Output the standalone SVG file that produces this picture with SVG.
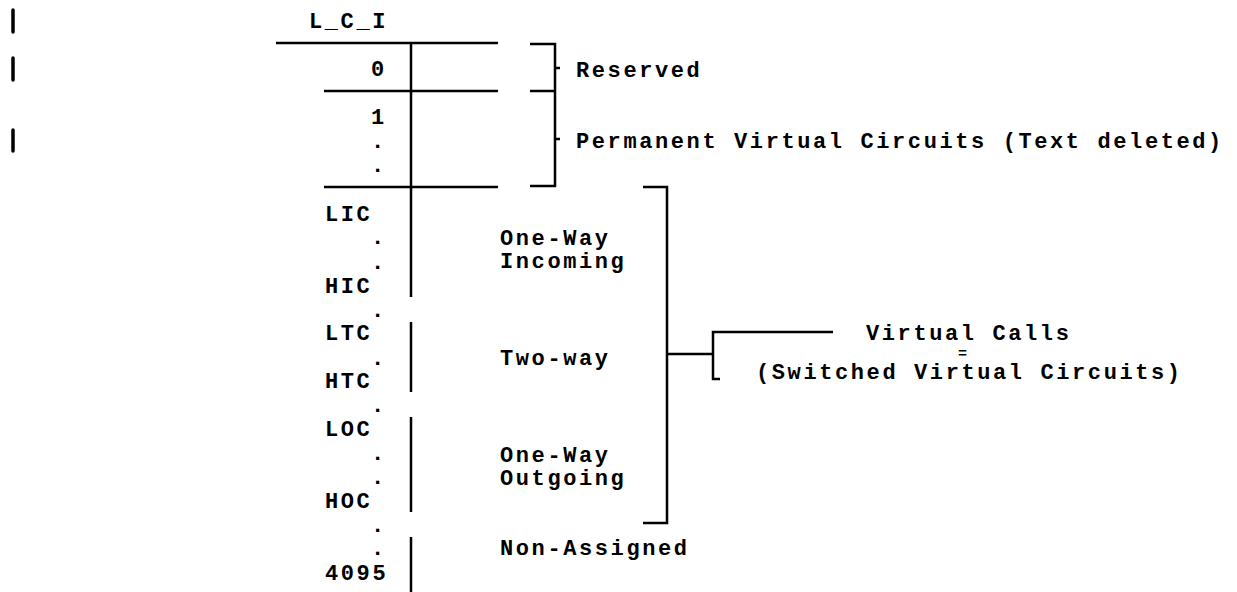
<svg xmlns="http://www.w3.org/2000/svg" width="1237" height="592" viewBox="0 0 1237 592">
<style>
text{font-family:"Liberation Mono","DejaVu Sans Mono",monospace;font-size:22px;font-weight:bold;fill:#000;letter-spacing:2.6px}
.eq{font-size:15px;letter-spacing:0}
.ln{stroke:#000;stroke-width:2.5;fill:none;stroke-linecap:butt}
.bar{stroke:#000;stroke-width:3.5;stroke-linecap:round}
</style>
<rect width="1237" height="592" fill="#fff"/>
<g id="change-bars">
<line class="bar" x1="13" y1="10" x2="13" y2="32"/>
<line class="bar" x1="13" y1="58" x2="13" y2="80"/>
<line class="bar" x1="13" y1="130" x2="13" y2="151"/>
</g>
<g id="table">
<text x="309" y="28">L_C_I</text>
<line class="ln" x1="276" y1="43" x2="498" y2="43"/>
<line class="ln" x1="324" y1="91" x2="498" y2="91"/>
<line class="ln" x1="324" y1="187" x2="498" y2="187"/>
<line class="ln" x1="411" y1="43" x2="411" y2="297"/>
<line class="ln" x1="411" y1="322" x2="411" y2="392"/>
<line class="ln" x1="411" y1="417" x2="411" y2="512"/>
<line class="ln" x1="411" y1="537" x2="411" y2="592"/>
</g>
<g id="reserved">
<text x="371" y="76">0</text>
<text x="576" y="77">Reserved</text>
</g>
<g id="pvc">
<text x="371" y="124">1</text>
<text x="371" y="148">.</text>
<text x="371" y="172">.</text>
<text x="576" y="148">Permanent Virtual Circuits (Text deleted)</text>
</g>
<g id="incoming">
<text x="325" y="221">LIC</text>
<text x="371" y="244">.</text>
<text x="371" y="269">.</text>
<text x="325" y="293">HIC</text>
<text x="500" y="245">One-Way</text>
<text x="500" y="268">Incoming</text>
</g>
<g id="two-way">
<text x="371" y="317">.</text>
<text x="325" y="340">LTC</text>
<text x="371" y="365">.</text>
<text x="325" y="388">HTC</text>
<text x="500" y="365">Two-way</text>
</g>
<g id="outgoing">
<text x="371" y="412">.</text>
<text x="325" y="436">LOC</text>
<text x="371" y="460">.</text>
<text x="371" y="484">.</text>
<text x="325" y="508">HOC</text>
<text x="500" y="462">One-Way</text>
<text x="500" y="485">Outgoing</text>
</g>
<g id="non-assigned">
<text x="371" y="532">.</text>
<text x="371" y="555">.</text>
<text x="325" y="580">4095</text>
<text x="500" y="555">Non-Assigned</text>
</g>
<g id="virtual-calls">
<text x="866" y="340">Virtual Calls</text>
<text class="eq" x="958" y="358">=</text>
<text x="756" y="379">(Switched Virtual Circuits)</text>
</g>
<g id="connectors">
<path class="ln" d="M530 44 H555 V186 H530 M530 91 H555 M555 68 H560 M555 139 H560"/>
<path class="ln" d="M643 187 H667 V523 H643"/>
<path class="ln" d="M667 354 H713 M833 332 H713 V379 H720"/>
</g>
</svg>
